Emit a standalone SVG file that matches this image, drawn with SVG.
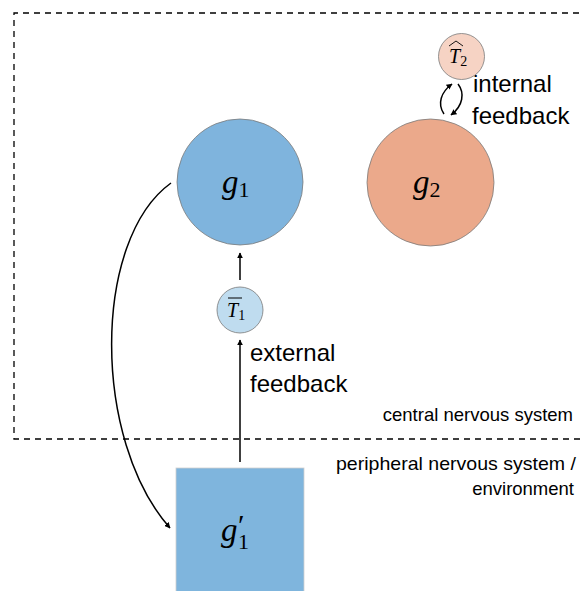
<svg xmlns="http://www.w3.org/2000/svg" width="582" height="591" viewBox="0 0 582 591">
<defs>
<marker id="ah" viewBox="0 0 10 10" refX="9" refY="5" markerWidth="6" markerHeight="6" markerUnits="userSpaceOnUse" orient="auto">
<path d="M0,0 L10,5 L0,10 z" fill="#000"/>
</marker>
</defs>
<style>
.lbl{font-family:"Liberation Sans",Arial,sans-serif;font-size:24px;fill:#000}
.sm{font-family:"Liberation Sans",Arial,sans-serif;font-size:18.5px;fill:#000}
.m{font-family:"Liberation Serif","DejaVu Serif",serif;fill:#000}
.mi{font-style:italic}
.node{stroke:#7a7a7a;stroke-width:0.8}
.conn{fill:none;stroke:#000;stroke-width:1.5}
</style>
<rect width="582" height="591" fill="#fff"/>
<g id="boundary">
<path d="M590,13 H14 V439 H590" fill="none" stroke="#000" stroke-width="1.3" stroke-dasharray="6,5"/>
<text class="sm" x="573" y="421" text-anchor="end">central nervous system</text>
<text class="sm" x="576" y="470" text-anchor="end" textLength="240" lengthAdjust="spacingAndGlyphs">peripheral nervous system /</text>
<text class="sm" x="574" y="495" text-anchor="end">environment</text>
</g>
<g id="connectors">
<path class="conn" d="M240,280 V253" marker-end="url(#ah)"/>
<path class="conn" d="M240,462 V340" marker-end="url(#ah)"/>
<path class="conn" d="M171,183 C92,240 92,440 170,528" marker-end="url(#ah)"/>
<path class="conn" d="M444,114 C437,104 441,92 452,84" marker-end="url(#ah)"/>
<path class="conn" d="M458,84 C465,93 463,106 451,115" marker-end="url(#ah)"/>
<text class="lbl" x="250" y="361">external</text>
<text class="lbl" x="250" y="392">feedback</text>
<text class="lbl" x="473" y="92">internal</text>
<text class="lbl" x="472" y="124">feedback</text>
</g>
<g id="g1">
<circle class="node" cx="240" cy="182" r="63" fill="#7fb4dd"/>
<text class="m" x="222" y="193" font-size="33"><tspan class="mi">g</tspan><tspan font-size="22" dy="4">1</tspan></text>
</g>
<g id="g2">
<circle class="node" cx="430.5" cy="182.5" r="63.5" fill="#eba98b"/>
<text class="m" x="413" y="193" font-size="33"><tspan class="mi">g</tspan><tspan font-size="22" dy="4">2</tspan></text>
</g>
<g id="T1">
<circle class="node" cx="240" cy="310" r="23" fill="#bfdcef"/>
<line x1="228" y1="298" x2="242" y2="298" stroke="#000" stroke-width="1"/>
<text class="m" x="227" y="317" font-size="20"><tspan class="mi">T</tspan><tspan font-size="14" dy="3">1</tspan></text>
</g>
<g id="T2">
<circle class="node" cx="461.5" cy="56.5" r="23" fill="#f6d3c4"/>
<path d="M449,46 L456,41 L463,46" fill="none" stroke="#000" stroke-width="0.9"/>
<text class="m" x="449" y="63" font-size="20"><tspan class="mi">T</tspan><tspan font-size="14" dy="3">2</tspan></text>
</g>
<g id="g1prime">
<rect x="176" y="468" width="128" height="130" fill="#7fb5dd" stroke="#cfcfcf" stroke-width="0.8"/>
<text class="m" x="221" y="541" font-size="33"><tspan class="mi">g</tspan></text>
<text class="m" x="238" y="535" font-size="30" font-family="DejaVu Sans, sans-serif">′</text>
<text class="m" x="238" y="549" font-size="22">1</text>
</g>
</svg>
